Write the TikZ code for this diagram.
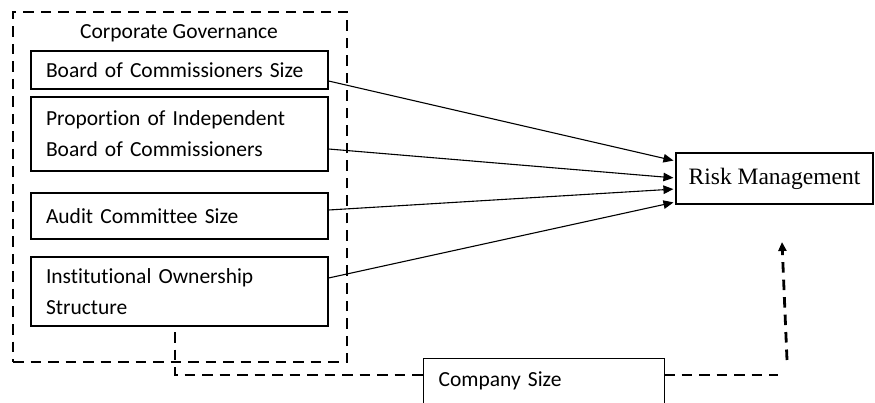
\documentclass[tikz,border=0pt]{standalone}
\usepackage{fontspec}
\newfontfamily\cgfont[Ligatures={NoCommon}]{Carlito}
\newfontfamily\tnrfont{Liberation Serif}
\usetikzlibrary{arrows.meta,calc}
\begin{document}
\begin{tikzpicture}[x=1pt,y=-1pt,
  dashedline/.style={line width=2.8pt, dash pattern=on 10.5pt off 7pt},
  varbox/.style={draw, line width=1.2pt, minimum width=297pt, text width=267pt, inner xsep=15pt, inner ysep=0pt, align=left, font=\fontsize{21.5}{31}\selectfont\cgfont},
  arr/.style={line width=1.1pt, shorten >=2pt, -{Triangle[length=10pt,width=8.5pt]}}]
\useasboundingbox (0,0) rectangle (875,403);
\clip (0,0) rectangle (875,403);
% outer dashed group
\node[dashedline, draw, minimum width=334pt, minimum height=350pt, inner sep=0pt] (cg) at (180,187) {};
\node[font=\fontsize{21.5}{26}\selectfont\cgfont, inner sep=0pt] (cgtitle) at (179,33) {Corporate Governance};
% variable boxes
\node[varbox, minimum height=38pt] (b1) at (179.5,70) {Board of Commissioners Size};
\node[varbox, minimum height=74pt] (b2) at (179.5,134) {Proportion of Independent\\Board of Commissioners};
\node[varbox, minimum height=46pt] (b3) at (179.5,216) {Audit Committee Size};
\node[varbox, minimum height=69pt] (b4) at (179.5,291.5) {Institutional Ownership\\Structure};
% risk management
\node[draw, line width=1.2pt, minimum width=197pt, minimum height=51pt, inner sep=0pt, font=\fontsize{23.5}{28}\selectfont\tnrfont] (risk) at (774.5,178.5) {Risk Management};
% company size
\node[draw, line width=1.2pt, anchor=north west, minimum width=241pt, text width=211pt, inner xsep=15pt, inner ysep=13pt, text height=15pt, text depth=30pt, align=left, font=\fontsize{21.5}{26}\selectfont\cgfont] (cs) at (423,358) {Company Size};
% arrows
\draw[arr] ($(b1.east)+(0,11)$) -- ($(risk.west)+(0,-17.5)$);
\draw[arr] ($(b2.east)+(0,15)$) -- ($(risk.west)+(0,-0.5)$);
\draw[arr] ($(b3.east)+(0,-6)$) -- ($(risk.west)+(0,10.5)$);
\draw[arr] ($(b4.east)+(0,-13.5)$) -- ($(risk.west)+(0,23.5)$);
% moderating dashed connector
\coordinate (d1) at (175,332);
\coordinate (d2) at (175,375);
\coordinate (csW) at (423,375);
\coordinate (csE) at (664,375);
\coordinate (d3) at (778,375);
\coordinate (d4) at (787,360);
\coordinate (d5) at (782,242);
\draw[dashedline] (d1) -- (d2) -- (csW);
\draw[dashedline] (csE) -- (d3);
\draw[dashedline, -{Triangle[length=9pt,width=8pt]}] (d4) -- (d5);
\end{tikzpicture}
\end{document}
